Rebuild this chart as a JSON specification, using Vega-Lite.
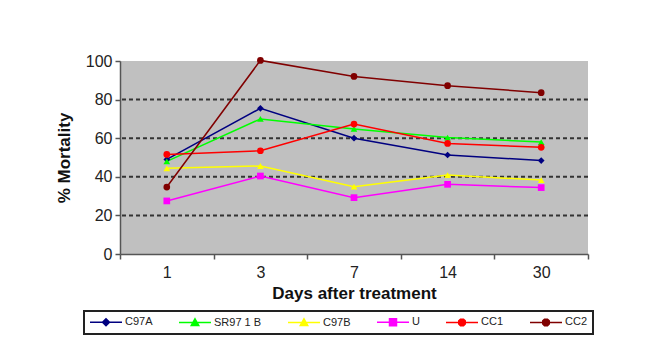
{
  "$schema": "https://vega.github.io/schema/vega-lite/v6.json",
  "width": 468,
  "height": 193,
  "autosize": {"type": "none"},
  "padding": {"left": 120, "top": 61, "right": 78, "bottom": 106},
  "background": "#ffffff",
  "config": {
    "view": {"fill": "#c0c0c0", "stroke": null},
    "font": "Liberation Sans",
    "axis": {"labelFont": "Liberation Sans", "titleFont": "Liberation Sans", "labelColor": "#222", "titleColor": "#111", "domainColor": "#555", "tickColor": "#555", "domainWidth": 1.5, "tickWidth": 1.5, "labelOverlap": false}
  },
  "data": {
    "values": [
      {"day": "1", "series": "C97A", "value": 49},
      {"day": "3", "series": "C97A", "value": 75.5},
      {"day": "7", "series": "C97A", "value": 60},
      {"day": "14", "series": "C97A", "value": 51.3},
      {"day": "30", "series": "C97A", "value": 48.4},
      {"day": "1", "series": "SR97 1 B", "value": 48},
      {"day": "3", "series": "SR97 1 B", "value": 70},
      {"day": "7", "series": "SR97 1 B", "value": 64.8},
      {"day": "14", "series": "SR97 1 B", "value": 60.3},
      {"day": "30", "series": "SR97 1 B", "value": 58},
      {"day": "1", "series": "C97B", "value": 44.4},
      {"day": "3", "series": "C97B", "value": 45.6},
      {"day": "7", "series": "C97B", "value": 34.9},
      {"day": "14", "series": "C97B", "value": 40.9},
      {"day": "30", "series": "C97B", "value": 38.3},
      {"day": "1", "series": "U", "value": 27.5},
      {"day": "3", "series": "U", "value": 40.4},
      {"day": "7", "series": "U", "value": 29.2},
      {"day": "14", "series": "U", "value": 36.1},
      {"day": "30", "series": "U", "value": 34.4},
      {"day": "1", "series": "CC1", "value": 51.6},
      {"day": "3", "series": "CC1", "value": 53.5},
      {"day": "7", "series": "CC1", "value": 67.3},
      {"day": "14", "series": "CC1", "value": 57.3},
      {"day": "30", "series": "CC1", "value": 55.3},
      {"day": "1", "series": "CC2", "value": 34.7},
      {"day": "3", "series": "CC2", "value": 100.3},
      {"day": "7", "series": "CC2", "value": 92},
      {"day": "14", "series": "CC2", "value": 87.2},
      {"day": "30", "series": "CC2", "value": 83.6}
    ]
  },
  "encoding": {
    "x": {
      "field": "day", "type": "ordinal", "sort": ["1", "3", "7", "14", "30"],
      "scale": {"type": "band", "paddingInner": 0, "paddingOuter": 0},
      "axis": {"title": "Days after treatment", "labelAngle": 0, "labelFontSize": 16, "titleFontSize": 17, "titleFontWeight": "bold", "tickBand": "extent", "tickSize": 5, "labelPadding": 5, "titlePadding": 5}
    },
    "y": {
      "field": "value", "type": "quantitative",
      "scale": {"domain": [0, 100]},
      "axis": {"title": "% Mortality", "values": [0, 20, 40, 60, 80, 100], "grid": false, "labelFontSize": 16, "titleFontSize": 17, "titleFontWeight": "bold", "tickSize": 5, "labelPadding": 3, "titlePadding": 12}
    },
    "color": {
      "field": "series", "type": "nominal",
      "scale": {"domain": ["C97A", "SR97 1 B", "C97B", "U", "CC1", "CC2"], "range": ["#000080", "#00ff00", "#ffff00", "#ff00ff", "#ff0000", "#800000"]}
    }
  },
  "layer": [
    {
      "data": {"values": [{"g": 20}, {"g": 40}, {"g": 60}, {"g": 80}]},
      "mark": {"type": "rule", "color": "#333", "strokeDash": [4, 3], "strokeWidth": 2},
      "encoding": {"x": null, "color": null, "y": {"field": "g", "type": "quantitative"}}
    },
    {
      "mark": {"type": "line", "strokeWidth": 1.5},
      "encoding": {
        "color": {
          "field": "series", "type": "nominal",
          "legend": {
            "title": null, "orient": "none", "legendX": -36, "legendY": 250,
            "direction": "horizontal", "columns": 6, "columnPadding": 23,
            "padding": 5, "strokeColor": "#222",
            "symbolSize": 100, "symbolStrokeWidth": 1.5, "labelOffset": 24,
            "labelFontSize": 11, "labelColor": "#222",
            "encode": {
              "legend": {"update": {"strokeWidth": {"value": 2}}},
              "symbols": {"update": {
                "fill": {"scale": "color", "field": "value"},
                "stroke": {"scale": "color", "field": "value"},
                "opacity": {"value": 1},
                "shape": {"signal": "datum.value === 'U' ? 'M-1,0L5.4,0M1.5,-0.7L2.9,-0.7L2.9,0.7L1.5,0.7Z' : (datum.value === 'SR97 1 B' || datum.value === 'C97B') ? 'M-1,0L5.4,0M2.2,-0.75L2.95,0.6L1.45,0.6Z' : (datum.value === 'C97A') ? 'M-1,0L5.4,0M2.2,-0.7L2.9,0L2.2,0.7L1.5,0Z' : 'M-1,0L5.4,0M1.9,-0.65L2.5,-0.65L2.85,-0.3L2.85,0.3L2.5,0.65L1.9,0.65L1.55,0.3L1.55,-0.3Z'"}
              }}
            }
          }
        }
      }
    },
    {
      "transform": [{"filter": "datum.series === 'C97A'"}],
      "mark": {"type": "point", "filled": true, "opacity": 1, "shape": "diamond", "size": 45}
    },
    {
      "transform": [{"filter": "datum.series === 'SR97 1 B' || datum.series === 'C97B'"}],
      "mark": {"type": "point", "filled": true, "opacity": 1, "shape": "triangle-up", "size": 45}
    },
    {
      "transform": [{"filter": "datum.series === 'U'"}],
      "mark": {"type": "point", "filled": true, "opacity": 1, "shape": "square", "size": 45}
    },
    {
      "transform": [{"filter": "datum.series === 'CC1' || datum.series === 'CC2'"}],
      "mark": {"type": "point", "filled": true, "opacity": 1, "shape": "circle", "size": 45}
    }
  ]
}
